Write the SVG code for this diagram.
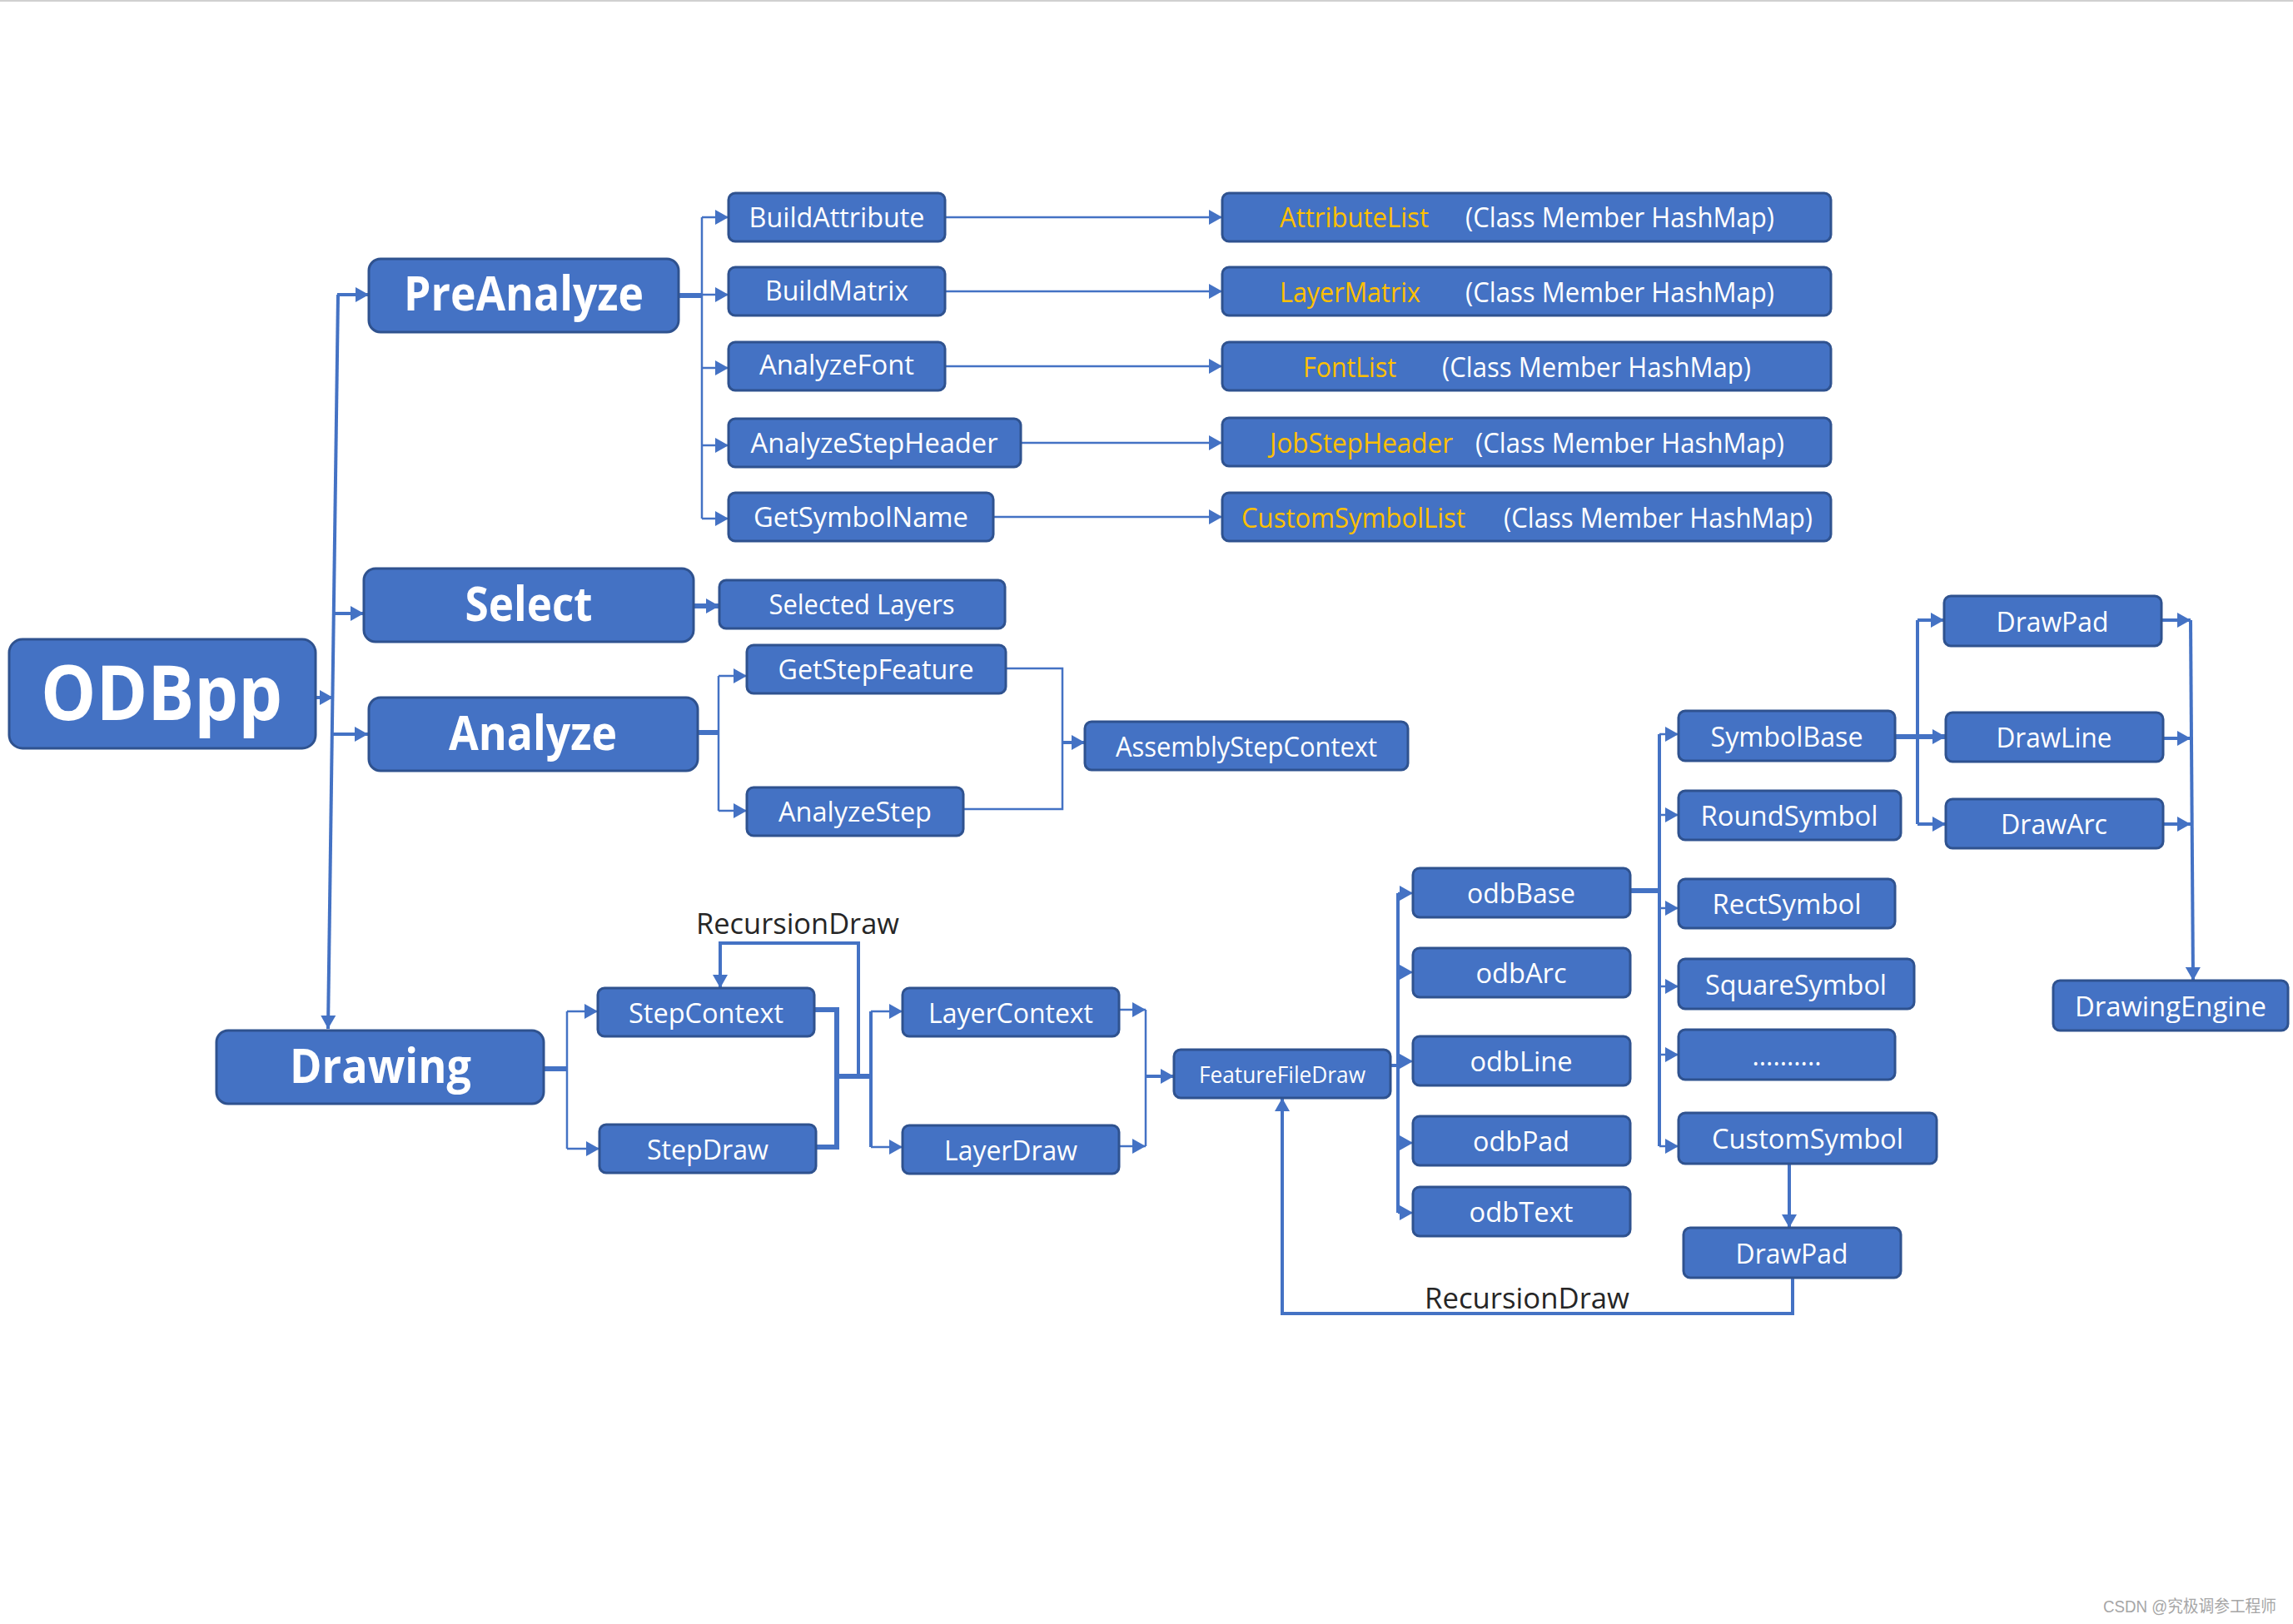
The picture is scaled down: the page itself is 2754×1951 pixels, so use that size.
<svg xmlns="http://www.w3.org/2000/svg" width="2754" height="1951" viewBox="0 0 2754 1951">
<defs>
<style>
.n rect{fill:#4472C4;stroke:#2F528F;stroke-width:3}
.t{fill:#fff;font-family:"Open Sans","Noto Sans",sans-serif;text-anchor:middle;dominant-baseline:central}
.h{font-weight:bold;font-size:58px}
.s{font-size:32px}
.r{fill:#fff;font-family:"Open Sans","Noto Sans",sans-serif;font-size:32px;dominant-baseline:central}
.o{fill:#FFC000}
.c{fill:none;stroke:#4472C4;stroke-width:2.5}
.m{stroke-width:4}
.k{stroke-width:6}
.lbl{fill:#262626;font-family:"Open Sans","Noto Sans",sans-serif;font-size:34px}
</style>
<marker id="a" markerUnits="userSpaceOnUse" markerWidth="16" markerHeight="18" refX="16" refY="9" orient="auto" viewBox="0 0 16 18"><path d="M0,0 L16,9 L0,18z" fill="#4472C4"/></marker>
</defs>
<rect width="2754" height="1951" fill="#fff"/>
<rect x="0" y="0" width="2754" height="2" fill="#d0d0d0"/>

<g id="connectors">
<path class="c m" d="M406,354 L394,1236" marker-end="url(#a)"/>
<path class="c m" d="M379,838 H400" marker-end="url(#a)"/>
<path class="c m" d="M405,354 H443" marker-end="url(#a)"/>
<path class="c m" d="M402,737 H437" marker-end="url(#a)"/>
<path class="c m" d="M400,882 H442" marker-end="url(#a)"/>

<path class="c k" d="M815,355 H843"/>
<path class="c" d="M843,261 V623"/>
<path class="c" d="M843,261 H875" marker-end="url(#a)"/>
<path class="c" d="M843,354 H875" marker-end="url(#a)"/>
<path class="c" d="M843,442 H875" marker-end="url(#a)"/>
<path class="c" d="M843,535 H875" marker-end="url(#a)"/>
<path class="c" d="M843,623 H875" marker-end="url(#a)"/>
<path class="c" d="M1135,261 H1468" marker-end="url(#a)"/>
<path class="c" d="M1135,350 H1468" marker-end="url(#a)"/>
<path class="c" d="M1135,440 H1468" marker-end="url(#a)"/>
<path class="c" d="M1226,532 H1468" marker-end="url(#a)"/>
<path class="c" d="M1193,621 H1468" marker-end="url(#a)"/>

<path class="c k" d="M833,728 H864" marker-end="url(#a)"/>
<path class="c k" d="M838,880 H863"/>
<path class="c" d="M863,812 V974"/>
<path class="c" d="M863,812 H897" marker-end="url(#a)"/>
<path class="c" d="M863,974 H897" marker-end="url(#a)"/>
<path class="c" d="M1208,803 H1276 V972 H1157"/>
<path class="c m" d="M1276,892 H1303" marker-end="url(#a)"/>

<path class="c k" d="M653,1284 H681"/>
<path class="c" d="M681,1215 V1380"/>
<path class="c" d="M681,1215 H718" marker-end="url(#a)"/>
<path class="c" d="M681,1380 H720" marker-end="url(#a)"/>
<path class="c k" d="M978,1213 H1005 V1378 H980"/>
<path class="c k" d="M1005,1293 H1046"/>
<path class="c m" d="M1031,1293 V1133 H865 V1187" marker-end="url(#a)"/>
<path class="c m" d="M1046,1215 V1378"/>
<path class="c" d="M1046,1215 H1084" marker-end="url(#a)"/>
<path class="c" d="M1046,1378 H1084" marker-end="url(#a)"/>
<path class="c" d="M1344,1213 H1376" marker-end="url(#a)"/>
<path class="c" d="M1344,1377 H1376" marker-end="url(#a)"/>
<path class="c" d="M1376,1213 V1377"/>
<path class="c m" d="M1376,1293 H1410" marker-end="url(#a)"/>

<path class="c m" d="M1670,1280 H1679"/>
<path class="c m" d="M1679,1073 V1457"/>
<path class="c" d="M1679,1073 H1697" marker-end="url(#a)"/>
<path class="c" d="M1679,1168 H1697" marker-end="url(#a)"/>
<path class="c" d="M1679,1275 H1697" marker-end="url(#a)"/>
<path class="c" d="M1679,1373 H1697" marker-end="url(#a)"/>
<path class="c" d="M1679,1457 H1697" marker-end="url(#a)"/>

<path class="c k" d="M1958,1070 H1993"/>
<path class="c m" d="M1993,882 V1377"/>
<path class="c" d="M1993,882 H2016" marker-end="url(#a)"/>
<path class="c" d="M1993,979 H2016" marker-end="url(#a)"/>
<path class="c" d="M1993,1091 H2016" marker-end="url(#a)"/>
<path class="c" d="M1993,1185 H2016" marker-end="url(#a)"/>
<path class="c" d="M1993,1267 H2016" marker-end="url(#a)"/>
<path class="c" d="M1993,1377 H2016" marker-end="url(#a)"/>

<path class="c k" d="M2276,885 H2337" marker-end="url(#a)"/>
<path class="c m" d="M2303,745 V990"/>
<path class="c m" d="M2303,745 H2335" marker-end="url(#a)"/>
<path class="c m" d="M2303,990 H2337" marker-end="url(#a)"/>
<path class="c m" d="M2596,745 H2631" marker-end="url(#a)"/>
<path class="c m" d="M2598,887 H2631" marker-end="url(#a)"/>
<path class="c m" d="M2598,990 H2631" marker-end="url(#a)"/>
<path class="c m" d="M2631,745 L2634,1178" marker-end="url(#a)"/>

<path class="c m" d="M2149,1398 V1475" marker-end="url(#a)"/>
<path class="c m" d="M2153,1535 V1578 H1540 V1319" marker-end="url(#a)"/>
</g>

<text class="lbl" x="836" y="1122" textLength="244" lengthAdjust="spacingAndGlyphs">RecursionDraw</text>
<text class="lbl" x="1711" y="1572" textLength="246" lengthAdjust="spacingAndGlyphs">RecursionDraw</text>

<g id="ODBpp" class="n"><rect x="11" y="768" width="368" height="131" rx="16"/><text class="t" x="194" y="829" style="font-weight:bold;font-size:92px" textLength="290" lengthAdjust="spacingAndGlyphs">ODBpp</text></g>
<g id="PreAnalyze" class="n"><rect x="443" y="311" width="372" height="88" rx="14"/><text class="t h" x="629" y="350" textLength="288" lengthAdjust="spacingAndGlyphs">PreAnalyze</text></g>
<g id="Select" class="n"><rect x="437" y="683" width="396" height="88" rx="14"/><text class="t h" x="635" y="723" textLength="153" lengthAdjust="spacingAndGlyphs">Select</text></g>
<g id="Analyze" class="n"><rect x="443" y="838" width="395" height="88" rx="14"/><text class="t h" x="640" y="878" textLength="202" lengthAdjust="spacingAndGlyphs">Analyze</text></g>
<g id="Drawing" class="n"><rect x="260" y="1238" width="393" height="88" rx="14"/><text class="t h" x="457" y="1278" textLength="218" lengthAdjust="spacingAndGlyphs">Drawing</text></g>

<g id="BuildAttribute" class="n"><rect x="875" y="232" width="260" height="58" rx="8"/><text class="t s" x="1005" y="260" textLength="211" lengthAdjust="spacingAndGlyphs">BuildAttribute</text></g>
<g id="BuildMatrix" class="n"><rect x="875" y="321" width="260" height="58" rx="8"/><text class="t s" x="1005" y="348" textLength="172" lengthAdjust="spacingAndGlyphs">BuildMatrix</text></g>
<g id="AnalyzeFont" class="n"><rect x="875" y="411" width="260" height="58" rx="8"/><text class="t s" x="1005" y="437" textLength="186" lengthAdjust="spacingAndGlyphs">AnalyzeFont</text></g>
<g id="AnalyzeStepHeader" class="n"><rect x="875" y="503" width="351" height="58" rx="8"/><text class="t s" x="1050" y="531" textLength="297" lengthAdjust="spacingAndGlyphs">AnalyzeStepHeader</text></g>
<g id="GetSymbolName" class="n"><rect x="875" y="592" width="318" height="58" rx="8"/><text class="t s" x="1034" y="620" textLength="258" lengthAdjust="spacingAndGlyphs">GetSymbolName</text></g>

<g id="AttributeList" class="n"><rect x="1468" y="232" width="731" height="58" rx="8"/><text class="r o" x="1537" y="260" textLength="179" lengthAdjust="spacingAndGlyphs">AttributeList</text><text class="r" x="1760" y="260" textLength="371" lengthAdjust="spacingAndGlyphs">(Class Member HashMap)</text></g>
<g id="LayerMatrix" class="n"><rect x="1468" y="321" width="731" height="58" rx="8"/><text class="r o" x="1537" y="350" textLength="169" lengthAdjust="spacingAndGlyphs">LayerMatrix</text><text class="r" x="1760" y="350" textLength="371" lengthAdjust="spacingAndGlyphs">(Class Member HashMap)</text></g>
<g id="FontList" class="n"><rect x="1468" y="411" width="731" height="58" rx="8"/><text class="r o" x="1565" y="440" textLength="112" lengthAdjust="spacingAndGlyphs">FontList</text><text class="r" x="1732" y="440" textLength="371" lengthAdjust="spacingAndGlyphs">(Class Member HashMap)</text></g>
<g id="JobStepHeader" class="n"><rect x="1468" y="502" width="731" height="58" rx="8"/><text class="r o" x="1525" y="531" textLength="220" lengthAdjust="spacingAndGlyphs">JobStepHeader</text><text class="r" x="1772" y="531" textLength="371" lengthAdjust="spacingAndGlyphs">(Class Member HashMap)</text></g>
<g id="CustomSymbolList" class="n"><rect x="1468" y="592" width="731" height="58" rx="8"/><text class="r o" x="1491" y="621" textLength="269" lengthAdjust="spacingAndGlyphs">CustomSymbolList</text><text class="r" x="1806" y="621" textLength="371" lengthAdjust="spacingAndGlyphs">(Class Member HashMap)</text></g>

<g id="SelectedLayers" class="n"><rect x="864" y="697" width="343" height="58" rx="8"/><text class="t s" x="1035" y="725" textLength="223" lengthAdjust="spacingAndGlyphs">Selected Layers</text></g>
<g id="GetStepFeature" class="n"><rect x="897" y="775" width="311" height="58" rx="8"/><text class="t s" x="1052" y="803" textLength="235" lengthAdjust="spacingAndGlyphs">GetStepFeature</text></g>
<g id="AnalyzeStep" class="n"><rect x="897" y="946" width="260" height="58" rx="8"/><text class="t s" x="1027" y="974" textLength="184" lengthAdjust="spacingAndGlyphs">AnalyzeStep</text></g>
<g id="AssemblyStepContext" class="n"><rect x="1303" y="867" width="388" height="58" rx="8"/><text class="t s" x="1497" y="896" textLength="314" lengthAdjust="spacingAndGlyphs">AssemblyStepContext</text></g>

<g id="StepContext" class="n"><rect x="718" y="1187" width="260" height="58" rx="8"/><text class="t s" x="848" y="1216" textLength="186" lengthAdjust="spacingAndGlyphs">StepContext</text></g>
<g id="StepDraw" class="n"><rect x="720" y="1351" width="260" height="58" rx="8"/><text class="t s" x="850" y="1380" textLength="146" lengthAdjust="spacingAndGlyphs">StepDraw</text></g>
<g id="LayerContext" class="n"><rect x="1084" y="1187" width="260" height="58" rx="8"/><text class="t s" x="1214" y="1216" textLength="198" lengthAdjust="spacingAndGlyphs">LayerContext</text></g>
<g id="LayerDraw" class="n"><rect x="1084" y="1352" width="260" height="58" rx="8"/><text class="t s" x="1214" y="1381" textLength="160" lengthAdjust="spacingAndGlyphs">LayerDraw</text></g>
<g id="FeatureFileDraw" class="n"><rect x="1410" y="1261" width="260" height="58" rx="8"/><text class="t" x="1540" y="1290" style="font-size:27px" textLength="200" lengthAdjust="spacingAndGlyphs">FeatureFileDraw</text></g>

<g id="odbBase" class="n"><rect x="1697" y="1043" width="261" height="59" rx="8"/><text class="t s" x="1827" y="1072" textLength="130" lengthAdjust="spacingAndGlyphs">odbBase</text></g>
<g id="odbArc" class="n"><rect x="1697" y="1139" width="261" height="59" rx="8"/><text class="t s" x="1827" y="1168" textLength="109" lengthAdjust="spacingAndGlyphs">odbArc</text></g>
<g id="odbLine" class="n"><rect x="1697" y="1245" width="261" height="59" rx="8"/><text class="t s" x="1827" y="1274" textLength="123" lengthAdjust="spacingAndGlyphs">odbLine</text></g>
<g id="odbPad" class="n"><rect x="1697" y="1341" width="261" height="59" rx="8"/><text class="t s" x="1827" y="1370" textLength="116" lengthAdjust="spacingAndGlyphs">odbPad</text></g>
<g id="odbText" class="n"><rect x="1697" y="1426" width="261" height="59" rx="8"/><text class="t s" x="1827" y="1455" textLength="125" lengthAdjust="spacingAndGlyphs">odbText</text></g>

<g id="SymbolBase" class="n"><rect x="2016" y="854" width="260" height="60" rx="8"/><text class="t s" x="2146" y="884" textLength="183" lengthAdjust="spacingAndGlyphs">SymbolBase</text></g>
<g id="RoundSymbol" class="n"><rect x="2016" y="950" width="267" height="59" rx="8"/><text class="t s" x="2149" y="979" textLength="213" lengthAdjust="spacingAndGlyphs">RoundSymbol</text></g>
<g id="RectSymbol" class="n"><rect x="2016" y="1056" width="260" height="59" rx="8"/><text class="t s" x="2146" y="1085" textLength="179" lengthAdjust="spacingAndGlyphs">RectSymbol</text></g>
<g id="SquareSymbol" class="n"><rect x="2016" y="1152" width="283" height="60" rx="8"/><text class="t s" x="2157" y="1182" textLength="218" lengthAdjust="spacingAndGlyphs">SquareSymbol</text></g>
<g id="Etc" class="n"><rect x="2016" y="1237" width="260" height="60" rx="8"/><text class="t s" x="2146" y="1267" textLength="83" lengthAdjust="spacingAndGlyphs">..........</text></g>
<g id="CustomSymbol" class="n"><rect x="2016" y="1337" width="310" height="61" rx="8"/><text class="t s" x="2171" y="1367" textLength="230" lengthAdjust="spacingAndGlyphs">CustomSymbol</text></g>
<g id="DrawPad2" class="n"><rect x="2022" y="1475" width="261" height="60" rx="8"/><text class="t s" x="2152" y="1505" textLength="135" lengthAdjust="spacingAndGlyphs">DrawPad</text></g>

<g id="DrawPad" class="n"><rect x="2335" y="716" width="261" height="60" rx="8"/><text class="t s" x="2465" y="746" textLength="135" lengthAdjust="spacingAndGlyphs">DrawPad</text></g>
<g id="DrawLine" class="n"><rect x="2337" y="856" width="261" height="59" rx="8"/><text class="t s" x="2467" y="885" textLength="139" lengthAdjust="spacingAndGlyphs">DrawLine</text></g>
<g id="DrawArc" class="n"><rect x="2337" y="960" width="261" height="59" rx="8"/><text class="t s" x="2467" y="989" textLength="128" lengthAdjust="spacingAndGlyphs">DrawArc</text></g>
<g id="DrawingEngine" class="n"><rect x="2466" y="1178" width="282" height="60" rx="8"/><text class="t s" x="2607" y="1208" textLength="230" lengthAdjust="spacingAndGlyphs">DrawingEngine</text></g>

<text x="2526" y="1937" fill="#a6a6a6" font-family="'Liberation Sans','Noto Sans CJK SC',sans-serif" font-size="20" textLength="208" lengthAdjust="spacingAndGlyphs">CSDN @究极调参工程师</text>
</svg>
